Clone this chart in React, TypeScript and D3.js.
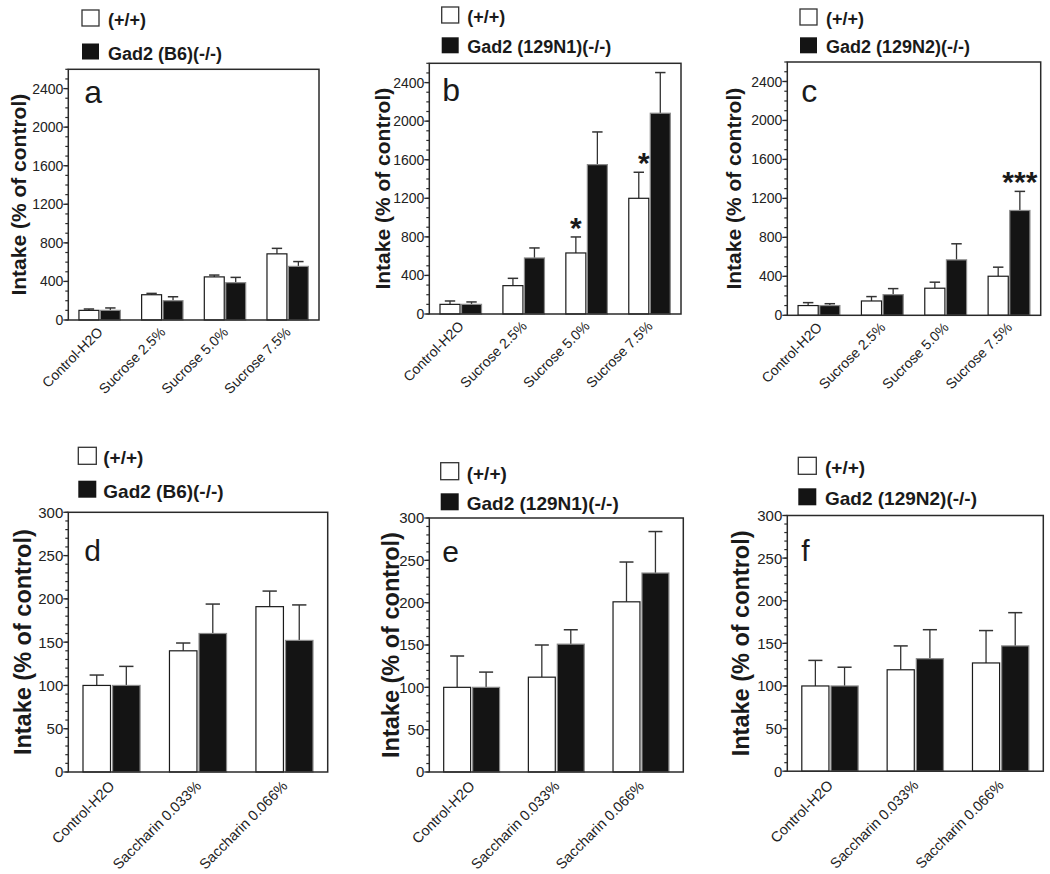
import React from "react";
import * as d3 from "d3";

// ---------- data ----------
const sucroseCategories = ["Control-H2O", "Sucrose 2.5%", "Sucrose 5.0%", "Sucrose 7.5%"];
const saccharinCategories = ["Control-H2O", "Saccharin 0.033%", "Saccharin 0.066%"];
const wildTypeLabel = "(+/+)";
const knockoutB6Label = "Gad2 (B6)(-/-)";
const knockoutN1Label = "Gad2 (129N1)(-/-)";
const knockoutN2Label = "Gad2 (129N2)(-/-)";
const yAxisTitle = "Intake (% of control)";

const sucroseTicks = [0, 400, 800, 1200, 1600, 2000, 2400];
const saccharinTicks = [0, 50, 100, 150, 200, 250, 300];

// panel a: sucrose, B6
const sucroseB6WT = [100, 262, 447, 686];
const sucroseB6WTSem = [14, 14, 19, 57];
const sucroseB6KO = [100, 200, 387, 556];
const sucroseB6KOSem = [25, 41, 55, 50];
// panel b: sucrose, 129N1
const sucroseN1WT = [100, 294, 633, 1200];
const sucroseN1WTSem = [35, 76, 166, 270];
const sucroseN1KO = [100, 581, 1549, 2082];
const sucroseN1KOSem = [25, 104, 339, 422];
const sucroseN1WTStars = ["", "", "*", "*"];
// panel c: sucrose, 129N2
const sucroseN2WT = [100, 147, 278, 401];
const sucroseN2WTSem = [30, 45, 62, 93];
const sucroseN2KO = [100, 212, 569, 1076];
const sucroseN2KOSem = [19, 62, 165, 196];
const sucroseN2KOStars = ["", "", "", "***"];
// panel d: saccharin, B6
const saccharinB6WT = [100, 140, 191];
const saccharinB6WTSem = [12, 9, 18];
const saccharinB6KO = [100, 160, 152];
const saccharinB6KOSem = [22, 34, 41];
// panel e: saccharin, 129N1
const saccharinN1WT = [100, 112, 201];
const saccharinN1WTSem = [37, 38, 47];
const saccharinN1KO = [100, 151, 235];
const saccharinN1KOSem = [18, 17, 49];
// panel f: saccharin, 129N2
const saccharinN2WT = [100, 119, 127];
const saccharinN2WTSem = [30, 28, 38];
const saccharinN2KO = [100, 132, 147];
const saccharinN2KOSem = [22, 34, 39];

const none4 = ["", "", "", ""];
const none3 = ["", "", ""];

// ---------- layout ----------
const FONT = "'Liberation Sans', Arial, Helvetica, sans-serif";
const GROUP = 0.66;

type PanelCfg = {
  letter: string;
  categories: string[];
  wt: number[]; wtSem: number[]; ko: number[]; koSem: number[];
  wtStars: string[]; koStars: string[];
  koLabel: string;
  ticks: number[]; yMax: number; minorStep: number;
  x0: number; x1: number; yTop: number; y0: number;
  legX: number; legY1: number; legY2: number; legTextX: number; legW: number; legH: number; legFont: number;
  titleX: number; titleFont: number; tickFont: number;
  letterDx: number; letterDy: number; letterFont: number;
  xlabDx: number; xlabDy: number; xlabFont: number;
};

const topCommon = { ticks: sucroseTicks, yMax: 2600, minorStep: 100, legW: 17, legH: 16, legFont: 18, titleFont: 21, tickFont: 14, letterFont: 32, xlabDx: 4, xlabDy: 13, xlabFont: 14 };
const botCommon = { ticks: saccharinTicks, yMax: 300, minorStep: 10, legW: 18, legH: 17, legFont: 19, titleFont: 23.5, tickFont: 15, letterFont: 30, xlabDx: 4, xlabDy: 15, xlabFont: 14.5 };

const panels: PanelCfg[] = [
  { ...topCommon, letter: "a", categories: sucroseCategories, wt: sucroseB6WT, wtSem: sucroseB6WTSem, ko: sucroseB6KO, koSem: sucroseB6KOSem, wtStars: none4, koStars: none4, koLabel: knockoutB6Label,
    x0: 68.3, x1: 319, yTop: 69.3, y0: 320, legX: 82, legY1: 10, legY2: 43.5, legTextX: 108, titleX: 26, letterDx: 16, letterDy: 34 },
  { ...topCommon, letter: "b", categories: sucroseCategories, wt: sucroseN1WT, wtSem: sucroseN1WTSem, ko: sucroseN1KO, koSem: sucroseN1KOSem, wtStars: sucroseN1WTStars, koStars: none4, koLabel: knockoutN1Label,
    x0: 429.3, x1: 681, yTop: 63.3, y0: 314, legX: 441.7, legY1: 7, legY2: 37.3, legTextX: 467.3, titleX: 390, letterDx: 13, letterDy: 38 },
  { ...topCommon, letter: "c", categories: sucroseCategories, wt: sucroseN2WT, wtSem: sucroseN2WTSem, ko: sucroseN2KO, koSem: sucroseN2KOSem, wtStars: none4, koStars: sucroseN2KOStars, koLabel: knockoutN2Label,
    x0: 787.3, x1: 1040.7, yTop: 62, y0: 315.3, legX: 800, legY1: 9, legY2: 37.3, legTextX: 826, titleX: 741, letterDx: 14, letterDy: 40 },
  { ...botCommon, letter: "d", categories: saccharinCategories, wt: saccharinB6WT, wtSem: saccharinB6WTSem, ko: saccharinB6KO, koSem: saccharinB6KOSem, wtStars: none3, koStars: none3, koLabel: knockoutB6Label,
    x0: 68.3, x1: 327.7, yTop: 512.3, y0: 772, legX: 78.3, legY1: 447.3, legY2: 480.7, legTextX: 103.3, titleX: 31, letterDx: 16, letterDy: 49 },
  { ...botCommon, letter: "e", categories: saccharinCategories, wt: saccharinN1WT, wtSem: saccharinN1WTSem, ko: saccharinN1KO, koSem: saccharinN1KOSem, wtStars: none3, koStars: none3, koLabel: knockoutN1Label,
    x0: 429.3, x1: 683.3, yTop: 518, y0: 772, legX: 440.7, legY1: 462.7, legY2: 493.3, legTextX: 466.7, titleX: 399, letterDx: 13, letterDy: 44 },
  { ...botCommon, letter: "f", categories: saccharinCategories, wt: saccharinN2WT, wtSem: saccharinN2WTSem, ko: saccharinN2KO, koSem: saccharinN2KOSem, wtStars: none3, koStars: none3, koLabel: knockoutN2Label,
    x0: 787.3, x1: 1043.3, yTop: 515.5, y0: 771.2, legX: 798.3, legY1: 457.3, legY2: 488.3, legTextX: 825, titleX: 749, letterDx: 14, letterDy: 45 },
];

function Panel({ p }: { p: PanelCfg }) {
  const y = d3.scaleLinear().domain([0, p.yMax]).range([p.y0, p.yTop]);
  const x = d3
    .scaleBand<string>()
    .domain(p.categories)
    .range([p.x0, p.x1])
    .paddingInner(1 - GROUP)
    .paddingOuter((1 - GROUP) / 2);
  const sub = d3.scaleBand<string>().domain(["wt", "ko"]).range([0, x.bandwidth()]).paddingInner(0.07);
  const bw = sub.bandwidth();
  const minor = d3.range(0, p.yMax + 0.001, p.minorStep);
  const axisColor = "#2a2a2a";

  const series = [
    { key: "wt", vals: p.wt, sem: p.wtSem, stars: p.wtStars, fill: "#ffffff", stroke: "#1a1a1a" },
    { key: "ko", vals: p.ko, sem: p.koSem, stars: p.koStars, fill: "#141414", stroke: "#8a8a8a" },
  ];

  return (
    <g>
      {/* legend */}
      <rect x={p.legX} y={p.legY1} width={p.legW} height={p.legH} fill="#fff" stroke="#333" strokeWidth={1.3} />
      <text x={p.legTextX} y={p.legY1 + p.legH} fontFamily={FONT} fontWeight="bold" fontSize={p.legFont} fill="#1a1a1a">{wildTypeLabel}</text>
      <rect x={p.legX} y={p.legY2} width={p.legW} height={p.legH} fill="#141414" />
      <text x={p.legTextX} y={p.legY2 + p.legH} fontFamily={FONT} fontWeight="bold" fontSize={p.legFont} fill="#1a1a1a">{p.koLabel}</text>

      {/* bars */}
      {p.categories.map((c, i) => (
        <g key={c}>
          {series.map((s) => {
            const bx = (x(c) as number) + (sub(s.key) as number);
            const top = y(s.vals[i]);
            const errTop = y(s.vals[i] + s.sem[i]);
            const cx = bx + bw / 2;
            return (
              <g key={s.key}>
                <line x1={cx} x2={cx} y1={top} y2={errTop} stroke="#333" strokeWidth={1.3} />
                <line x1={cx - bw * 0.26} x2={cx + bw * 0.26} y1={errTop} y2={errTop} stroke="#333" strokeWidth={1.5} />
                <rect x={bx} y={top} width={bw} height={p.y0 - top} fill={s.fill} stroke={s.stroke} strokeWidth={1.2} />
                {s.stars[i] ? (
                  <text x={cx + (i === 3 && s.key === "wt" ? 5 : 0)} y={errTop + 1} textAnchor="middle" fontFamily={FONT} fontWeight="bold" fontSize={30} fill="#1a1a1a">{s.stars[i]}</text>
                ) : null}
              </g>
            );
          })}
        </g>
      ))}

      {/* frame */}
      <rect x={p.x0} y={p.yTop} width={p.x1 - p.x0} height={p.y0 - p.yTop} fill="none" stroke={axisColor} strokeWidth={1.5} />

      {/* y ticks */}
      {minor.map((v) => (
        <line key={"m" + v} x1={p.x0 - 3} x2={p.x0} y1={y(v)} y2={y(v)} stroke={axisColor} strokeWidth={1.2} />
      ))}
      {p.ticks.map((v) => (
        <g key={"t" + v}>
          <line x1={p.x0 - 5} x2={p.x0} y1={y(v)} y2={y(v)} stroke={axisColor} strokeWidth={1.3} />
          <text x={p.x0 - 5} y={y(v)} dy="0.36em" textAnchor="end" fontFamily={FONT} fontSize={p.tickFont} fill="#222">{v}</text>
        </g>
      ))}

      {/* y title */}
      <text transform={`translate(${p.titleX},${(p.yTop + p.y0) / 2}) rotate(-90)`} textAnchor="middle" fontFamily={FONT} fontWeight="bold" fontSize={p.titleFont} fill="#1a1a1a">{yAxisTitle}</text>

      {/* panel letter */}
      <text x={p.x0 + p.letterDx} y={p.yTop + p.letterDy} fontFamily={FONT} fontSize={p.letterFont} fill="#1a1a1a">{p.letter}</text>

      {/* x labels */}
      {p.categories.map((c) => {
        const cx = (x(c) as number) + x.bandwidth() / 2;
        return (
          <text key={"xl" + c} transform={`translate(${cx + p.xlabDx},${p.y0 + p.xlabDy}) rotate(-45)`} textAnchor="end" fontFamily={FONT} fontSize={p.xlabFont} fill="#222">{c}</text>
        );
      })}
    </g>
  );
}

export default function App() {
  return (
    <svg width={1050} height={874} viewBox="0 0 1050 874" style={{ position: "absolute", left: 0, top: 0, background: "#fff" }}>
      <rect x={0} y={0} width={1050} height={874} fill="#fff" />
      {panels.map((p) => (
        <Panel key={p.letter} p={p} />
      ))}
    </svg>
  );
}
